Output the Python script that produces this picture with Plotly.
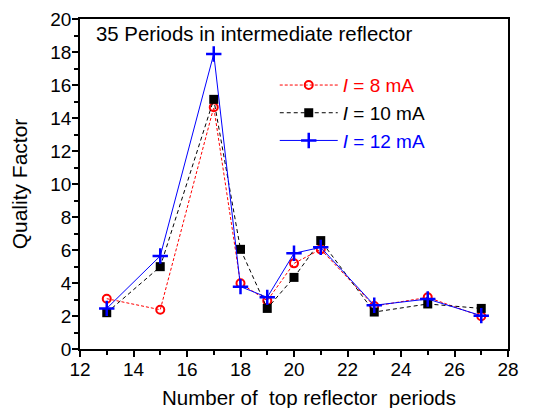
import plotly.graph_objects as go

periods = [13, 15, 17, 18, 19, 20, 21, 23, 25, 27]
q_8ma = [3.05, 2.38, 14.65, 3.98, 2.93, 5.19, 6.04, 2.60, 3.13, 1.98]
q_10ma = [2.20, 4.99, 15.13, 6.04, 2.46, 4.34, 6.57, 2.24, 2.73, 2.46]
q_12ma = [2.46, 5.64, 17.88, 3.78, 3.13, 5.80, 6.16, 2.65, 3.03, 2.02]

font = "Liberation Sans, Arial, sans-serif"

fig = go.Figure()

fig.add_trace(go.Scatter(
    x=periods, y=q_8ma, mode="lines+markers",
    name="<span style='color:red'><i>I</i> = 8 mA</span>",
    line=dict(color="red", width=1, dash="3px,2px"),
    marker=dict(symbol="circle-open", size=8, color="red", line=dict(width=2)),
))
fig.add_trace(go.Scatter(
    x=periods, y=q_10ma, mode="lines+markers",
    name="<span style='color:black'><i>I</i> = 10 mA</span>",
    line=dict(color="black", width=1, dash="4px,3px"),
    marker=dict(symbol="square", size=9, color="black"),
))
fig.add_trace(go.Scatter(
    x=periods, y=q_12ma, mode="lines+markers",
    name="<span style='color:blue'><i>I</i> = 12 mA</span>",
    line=dict(color="blue", width=1),
    marker=dict(symbol="cross-thin", size=11, color="blue", line=dict(width=2.5, color="blue")),
))

fig.add_annotation(
    text="35 Periods in intermediate reflector",
    xref="paper", yref="paper", x=0.033, y=0.955,
    xanchor="left", yanchor="middle", showarrow=False,
    font=dict(family=font, size=20.4, color="black"),
)
# x title as annotation: it sits right of centre in the reference
fig.add_annotation(
    text="Number of  top reflector  periods",
    xref="paper", yref="paper", x=0.535, y=-0.148,
    xanchor="center", yanchor="middle", showarrow=False,
    font=dict(family=font, size=20.5, color="black"),
)

axis_common = dict(
    showline=True, linecolor="black", linewidth=1.5, mirror=True,
    ticks="outside", ticklen=6, tickwidth=1.5, tickcolor="black",
    showgrid=False, zeroline=False, automargin=False,
    tickfont=dict(family=font, size=19, color="black"),
    minor=dict(ticks="outside", ticklen=4, tickwidth=1.5, tickcolor="black", dtick=1),
)

fig.update_xaxes(range=[12, 28], dtick=2, ticklabelstandoff=-4, **axis_common)
fig.update_yaxes(
    range=[0, 20], dtick=2, ticklabelstandoff=-3,
    title=dict(text="Quality Factor", font=dict(family=font, size=21, color="black"), standoff=20),
    **axis_common,
)

# the page body adds an 8px offset, so margins are shifted to keep the plot box in place
fig.update_layout(
    width=540, height=408,
    margin=dict(l=72, r=40, t=11, b=67),
    paper_bgcolor="white", plot_bgcolor="white",
    font=dict(family=font, color="black"),
    legend=dict(
        x=0.455, y=0.857, xanchor="left", yanchor="top",
        bgcolor="rgba(0,0,0,0)", font=dict(family=font, size=19),
        tracegroupgap=0, itemwidth=58,
    ),
    showlegend=True,
)

fig.write_html("out.html")
